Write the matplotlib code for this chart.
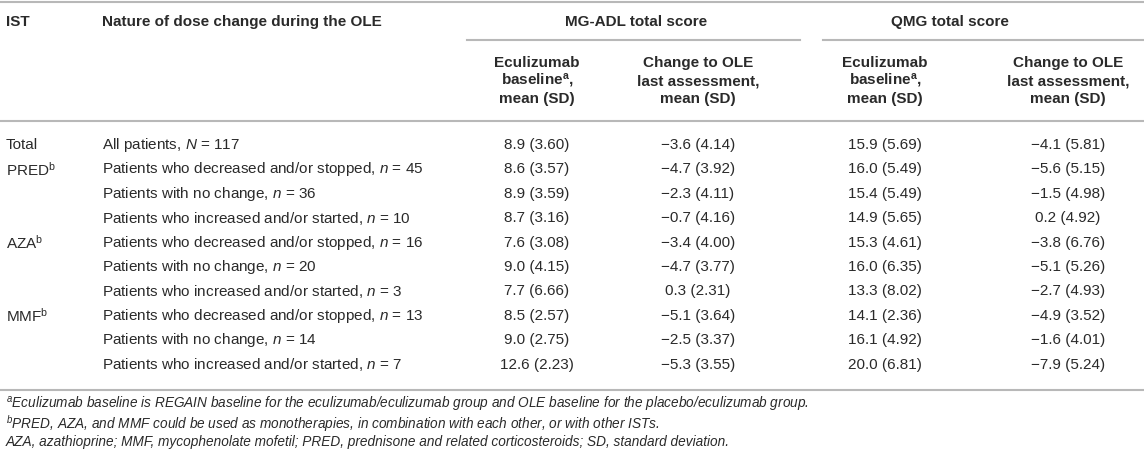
import matplotlib
matplotlib.use("Agg")
import matplotlib.pyplot as plt

plt.rcParams['font.family'] = ['Liberation Sans', 'DejaVu Sans']
plt.rcParams['mathtext.fontset'] = 'custom'
plt.rcParams['mathtext.rm'] = 'Liberation Sans'
plt.rcParams['mathtext.it'] = 'Liberation Sans:italic'
plt.rcParams['mathtext.bf'] = 'Liberation Sans:bold'

# table contents
ist = ["Total", "PRED$^{\\mathrm{b}}$", "", "", "AZA$^{\\mathrm{b}}$", "", "",
       "MMF$^{\\mathrm{b}}$", "", ""]
nature = ["All patients, $N$ = 117",
          "Patients who decreased and/or stopped, $n$ = 45",
          "Patients with no change, $n$ = 36",
          "Patients who increased and/or started, $n$ = 10",
          "Patients who decreased and/or stopped, $n$ = 16",
          "Patients with no change, $n$ = 20",
          "Patients who increased and/or started, $n$ = 3",
          "Patients who decreased and/or stopped, $n$ = 13",
          "Patients with no change, $n$ = 14",
          "Patients who increased and/or started, $n$ = 7"]
mg_base = ["8.9 (3.60)", "8.6 (3.57)", "8.9 (3.59)", "8.7 (3.16)", "7.6 (3.08)",
           "9.0 (4.15)", "7.7 (6.66)", "8.5 (2.57)", "9.0 (2.75)", "12.6 (2.23)"]
mg_change = ["\u22123.6 (4.14)", "\u22124.7 (3.92)", "\u22122.3 (4.11)", "\u22120.7 (4.16)",
             "\u22123.4 (4.00)", "\u22124.7 (3.77)", "0.3 (2.31)", "\u22125.1 (3.64)",
             "\u22122.5 (3.37)", "\u22125.3 (3.55)"]
qmg_base = ["15.9 (5.69)", "16.0 (5.49)", "15.4 (5.49)", "14.9 (5.65)", "15.3 (4.61)",
            "16.0 (6.35)", "13.3 (8.02)", "14.1 (2.36)", "16.1 (4.92)", "20.0 (6.81)"]
qmg_change = ["\u22124.1 (5.81)", "\u22125.6 (5.15)", "\u22121.5 (4.98)", "0.2 (4.92)",
              "\u22123.8 (6.76)", "\u22125.1 (5.26)", "\u22122.7 (4.93)", "\u22124.9 (3.52)",
              "\u22121.6 (4.01)", "\u22127.9 (5.24)"]
groups = ["MG-ADL total score", "QMG total score"]
subheads = [["Eculizumab", "baseline$^{\\mathbf{a}}$,", "mean (SD)"],
            ["Change to OLE", "last assessment,", "mean (SD)"]]
footnotes = ["$^{a}$Eculizumab baseline is REGAIN baseline for the eculizumab/eculizumab group "
             "and OLE baseline for the placebo/eculizumab group.",
             "$^{b}$PRED, AZA, and MMF could be used as monotherapies, in combination with each "
             "other, or with other ISTs.",
             "AZA, azathioprine; MMF, mycophenolate mofetil; PRED, prednisone and related "
             "corticosteroids; SD, standard deviation."]

txt = '#2a2a2a'
rule = '#b8b8b8'
fs = 11.0

fig = plt.figure(figsize=(11.44, 4.59), dpi=100)
ax = fig.add_axes([0, 0, 1, 1])
ax.set_xlim(0, 1144)
ax.set_ylim(459, 0)
ax.axis('off')

# rules
ax.plot([0, 1144], [2, 2], color=rule, lw=1.5)
ax.plot([467, 800], [40, 40], color=rule, lw=1.5)
ax.plot([823, 1144], [40, 40], color=rule, lw=1.5)
ax.plot([0, 1144], [121, 121], color=rule, lw=1.5)
ax.plot([0, 1144], [390, 390], color=rule, lw=1.5)

# header
ax.text(6, 22, "IST", fontsize=fs, fontweight='bold', color=txt, va='center')
ax.text(102, 22, "Nature of dose change during the OLE", fontsize=fs,
        fontweight='bold', color=txt, va='center')
ax.text(636, 22, groups[0], fontsize=fs, fontweight='bold', color=txt,
        va='center', ha='center')
ax.text(950, 22, groups[1], fontsize=fs, fontweight='bold', color=txt,
        va='center', ha='center')

col_x = [537, 698, 885, 1068]
sub_y = [63, 81, 99]
for k, cx in enumerate(col_x):
    for line, yy in zip(subheads[k % 2], sub_y):
        ax.text(cx, yy, line, fontsize=fs, fontweight='bold', color=txt,
                va='center', ha='center')

# body
row_y = [145 + 24.4 * i for i in range(len(nature))]
for i, yy in enumerate(row_y):
    ax.text(6, yy, ist[i], fontsize=fs, color=txt, va='center')
    ax.text(102, yy, nature[i], fontsize=fs, color=txt, va='center')
    for cx, col in zip(col_x, [mg_base, mg_change, qmg_base, qmg_change]):
        ax.text(cx, yy, col[i], fontsize=fs, color=txt, va='center', ha='center')

# footnotes
for j, note in enumerate(footnotes):
    ax.text(6, 405 + 18.5 * j, note, fontsize=9.8, style='italic', color=txt, va='center')

fig.savefig("out.png", dpi=100)
